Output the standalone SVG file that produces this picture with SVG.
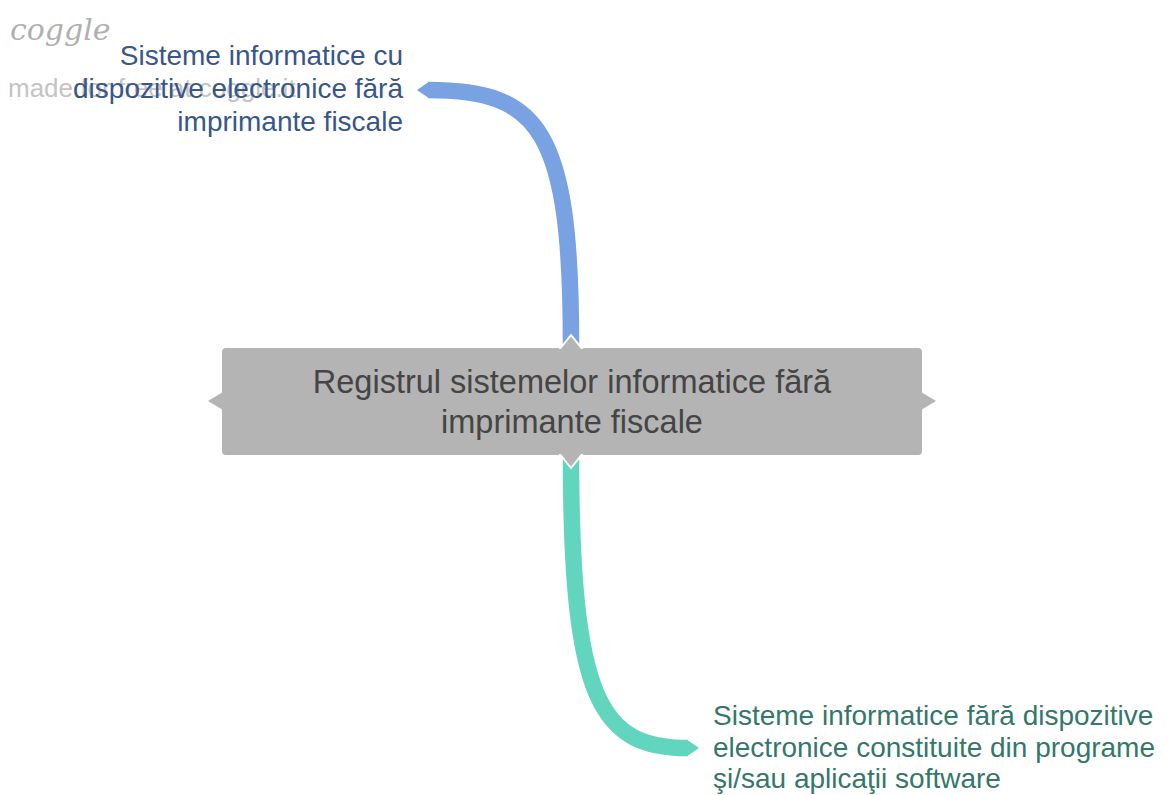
<svg xmlns="http://www.w3.org/2000/svg" width="1167" height="795" viewBox="0 0 1167 795">
<style>
.wm{font-family:"Liberation Sans",Arial,sans-serif;fill:#c4c4c4}
.logo{font-family:"DejaVu Serif","Liberation Serif",serif;font-style:italic;fill:#b0b0b0}
.lbl{font-family:"Liberation Sans",Arial,sans-serif;font-size:28px}
.blue{fill:#38568a}
.green{fill:#35786a}
.ctr{font-family:"Liberation Sans",Arial,sans-serif;font-size:32.5px;fill:#454545}
.notch{fill:#b4b4b4;stroke:#ffffff;stroke-width:2;stroke-linejoin:miter}
</style>
<rect width="1167" height="795" fill="#ffffff"/>
<g id="watermark">
<text class="logo" x="10" y="40" font-size="30">coggle</text>
<text class="wm" x="8" y="97" font-size="26">made for free at coggle.it</text>
</g>
<g id="connectors">
<path d="M571,345 C571,130 540,90 428,90" fill="none" stroke="#78a2e2" stroke-width="16.5"/>
<polygon points="429,81.75 429,98.25 417,90" fill="#78a2e2"/>
<path d="M571,455 C571,700 600,748 688,748" fill="none" stroke="#62d5bf" stroke-width="16.5"/>
<polygon points="687,739.75 687,756.25 699,748" fill="#62d5bf"/>
</g>
<g id="node-center">
<rect x="222" y="348" width="700" height="107" rx="4" fill="#b4b4b4"/>
<polygon points="223,392 208,401 223,410" fill="#b4b4b4"/>
<polygon points="921,392 936,401 921,410" fill="#b4b4b4"/>
<polygon class="notch" points="559,350 571,335 583,350"/>
<polygon class="notch" points="559,453 571,468 583,453"/>
<rect x="555" y="349" width="32" height="10" fill="#b4b4b4"/>
<rect x="555" y="444" width="32" height="10" fill="#b4b4b4"/>
<text class="ctr" text-anchor="middle"><tspan x="572" y="393">Registrul sistemelor informatice fără</tspan><tspan x="572" y="433">imprimante fiscale</tspan></text>
</g>
<g id="node-top">
<text class="lbl blue" text-anchor="end"><tspan x="403" y="65">Sisteme informatice cu</tspan><tspan x="403" y="98">dispozitive electronice fără</tspan><tspan x="403" y="131">imprimante fiscale</tspan></text>
</g>
<g id="node-bottom">
<text class="lbl green"><tspan x="713" y="725">Sisteme informatice fără dispozitive</tspan><tspan x="713" y="757">electronice constituite din programe</tspan><tspan x="713" y="788">şi/sau aplicaţii software</tspan></text>
</g>
</svg>
